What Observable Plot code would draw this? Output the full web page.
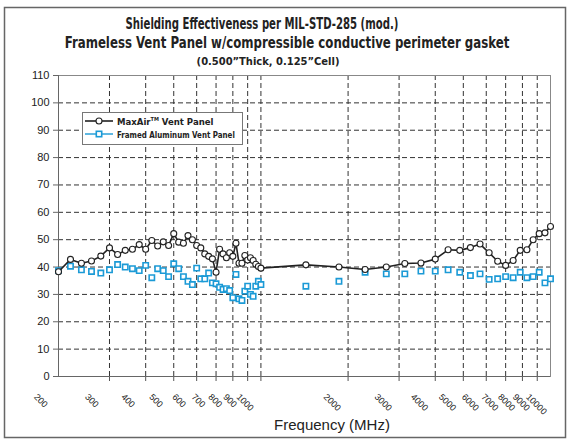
<!DOCTYPE html>
<html><head><meta charset="utf-8">
<script src="https://cdn.jsdelivr.net/npm/d3@7"></script>
<script src="https://cdn.jsdelivr.net/npm/@observablehq/plot@0.6"></script>
<style>
body{margin:0;background:#fff}
#chart{width:569px;height:441px;position:relative}
</style>
</head><body><div id="chart"></div>
<script>
const titleLines = [
  "Shielding Effectiveness per MIL-STD-285 (mod.)",
  "Frameless Vent Panel w/compressible conductive perimeter gasket",
  "(0.500\u201DThick, 0.125\u201DCell)"
];
const xLabel = "Frequency (MHz)";
const seriesNames = ["MaxAir", "Framed Aluminum Vent Panel"];

const maxAirFreq = [200,220,240,260,280,300,320,340,360,380,400,420,440,460,480,500,520,540,560,580,600,620,640,660,680,700,720,740,760,780,800,820,840,860,880,900,920,940,960,980,1000,
  1430,1860,2290,2710,3140,3570,4000,4430,4860,5290,5710,6140,6570,7000,7430,7860,8290,8710,9140,9570,10000];
const maxAirSE = [38.3,42.8,41.4,42.2,44.0,47.0,44.6,46.1,46.5,48.2,46.5,49.7,47.7,49.2,47.9,52.2,49.1,48.7,51.5,50.0,47.9,47.0,44.8,43.9,43.0,38.1,46.5,44.8,43.4,45.2,43.9,48.7,41.4,41.4,44.2,42.6,43.4,42.4,41.0,40.2,39.6,
  40.8,40.0,39.1,40.0,41.3,41.5,42.9,46.3,46.1,47.1,48.4,45.2,42.1,40.6,42.4,46.1,46.3,50.0,52.2,52.5,54.8];

const framedFreq = maxAirFreq.slice();
const framedSE = [38.7,40.3,39.0,38.4,37.8,39.0,40.9,40.0,39.4,38.7,40.6,36.1,39.4,38.7,36.5,41.2,39.4,36.5,34.8,33.6,39.6,35.7,35.7,37.8,34.2,33.9,32.6,31.8,32.1,31.4,28.8,37.3,28.4,27.8,31.2,33.0,30.0,29.3,33.0,34.8,33.6,
  33.0,34.8,38.1,37.5,37.5,38.5,38.5,39.0,38.1,36.9,37.5,35.5,35.7,36.5,36.1,38.1,36.1,36.5,38.1,34.2,35.7];

const xTicks = [200,300,400,500,600,700,800,900,1000,2000,3000,4000,5000,6000,7000,8000,9000,10000];
const xGrid = [300,400,500,600,700,800,900,1000,2000,3000,4000,5000,6000,7000,8000,9000];
const yTicks = [0,10,20,30,40,50,60,70,80,90,100,110];

const maxAir = maxAirFreq.map((f,i)=>({f, v:maxAirSE[i]}));
const framed = framedFreq.map((f,i)=>({f, v:framedSE[i]}));

const blue = "#1b9ad6";
const narrow = "'Liberation Sans Narrow','DejaVu Sans Condensed','Liberation Sans',Arial,sans-serif";

const chart = Plot.plot({
  width: 569, height: 441,
  marginLeft: 58, marginRight: 19, marginTop: 75, marginBottom: 65,
  style: {fontFamily: "'Liberation Sans', Arial, sans-serif", fontSize: "11px", color: "#222", background: "#fff"},
  x: {type: "log", domain: [200, 10000], axis: null},
  y: {type: "linear", domain: [0, 110], axis: null},
  marks: [
    Plot.gridY(yTicks.filter(d => d > 0 && d < 110), {stroke: "#333", strokeOpacity: 1, strokeDasharray: "5,3"}),
    Plot.gridX(xGrid, {stroke: "#333", strokeOpacity: 1, strokeDasharray: "5,3"}),
    Plot.axisX(xGrid, {tickSize: 5, tickFormat: () => "", stroke: "#555", label: null}),
    Plot.frame({stroke: "#888"}),
    Plot.ruleY([0], {stroke: "#666"}),
    Plot.ruleX([200], {stroke: "#666"}),
    Plot.axisY(yTicks, {tickSize: 5, tickPadding: 4, fontSize: 11, stroke: "#666", color: "#222", label: null}),
    Plot.text(xTicks, {x: d => d, text: d => String(d), frameAnchor: "bottom", rotate: 45, textAnchor: "start", dx: -25, dy: 21, fontSize: 9, fill: "#222"}),
    Plot.text([xLabel], {frameAnchor: "bottom", x: () => 1760, text: d => d, dy: 53, fontSize: 15, fill: "#222"}),
    Plot.dot(framed, {x: "f", y: "v", symbol: "square", r: 3, stroke: blue, fill: "white", strokeWidth: 1.6}),
    Plot.line(maxAir, {x: "f", y: "v", stroke: "#222", strokeWidth: 1.6}),
    Plot.dot(maxAir, {x: "f", y: "v", r: 3, stroke: "#222", fill: "white", strokeWidth: 1.1})
  ]
});

document.getElementById("chart").appendChild(chart);
const svg = d3.select(chart);

// outer border
svg.append("rect").attr("x", 4.5).attr("y", 7.5).attr("width", 561).attr("height", 430)
  .attr("fill", "none").attr("stroke", "#666").attr("stroke-width", 1.5);

// titles: natural text, horizontally scaled to the reference width
const tspec = [
  {t: titleLines[0], x: 262, y: 29, size: 15, len: 273},
  {t: titleLines[1], x: 287, y: 48, size: 15, len: 445},
  {t: titleLines[2], x: 268, y: 65, size: 11, len: 143}
];
tspec.forEach(s => {
  const g = svg.append("g");
  const txt = g.append("text").attr("x", 0).attr("y", 0).attr("text-anchor", "middle")
    .attr("font-family", narrow).attr("font-weight", "bold").attr("font-size", s.size)
    .attr("fill", "#222").text(s.t);
  const w = txt.node().getComputedTextLength() || s.len;
  g.attr("transform", `translate(${s.x},${s.y}) scale(${s.len / w},1)`);
});

// legend
const lg = svg.append("g").attr("text-anchor", "start");
lg.append("rect").attr("x", 82.5).attr("y", 112.5).attr("width", 160).attr("height", 32)
  .attr("fill", "#fff").attr("stroke", "#777");
lg.append("line").attr("x1", 85).attr("x2", 113).attr("y1", 121).attr("y2", 121).attr("stroke", "#222").attr("stroke-width", 1.6);
lg.append("circle").attr("cx", 99).attr("cy", 121).attr("r", 3).attr("fill", "#fff").attr("stroke", "#222").attr("stroke-width", 1.1);
lg.append("line").attr("x1", 85).attr("x2", 113).attr("y1", 134).attr("y2", 134).attr("stroke", blue).attr("stroke-width", 1.4);
lg.append("rect").attr("x", 96.3).attr("y", 131.3).attr("width", 5.4).attr("height", 5.4).attr("fill", "#fff").attr("stroke", blue).attr("stroke-width", 1.6);
const t1 = lg.append("text").attr("x", 117).attr("y", 124.5).attr("font-family", narrow).attr("font-weight", "bold").attr("font-size", 9.5).attr("fill", "#222");
t1.append("tspan").text(seriesNames[0]);
t1.append("tspan").attr("font-size", 5.5).attr("dy", -3.5).text("TM");
t1.append("tspan").attr("dy", 3.5).text(" Vent Panel");
const t2g = lg.append("g");
const t2 = t2g.append("text").attr("x", 0).attr("y", 0).attr("font-family", narrow).attr("font-weight", "bold").attr("font-size", 9.5).attr("fill", "#222")
  .text(seriesNames[1]);
const w2 = t2.node().getComputedTextLength() || 118;
t2g.attr("transform", `translate(117,137.5) scale(${118 / w2},1)`);
</script>
</body></html>
